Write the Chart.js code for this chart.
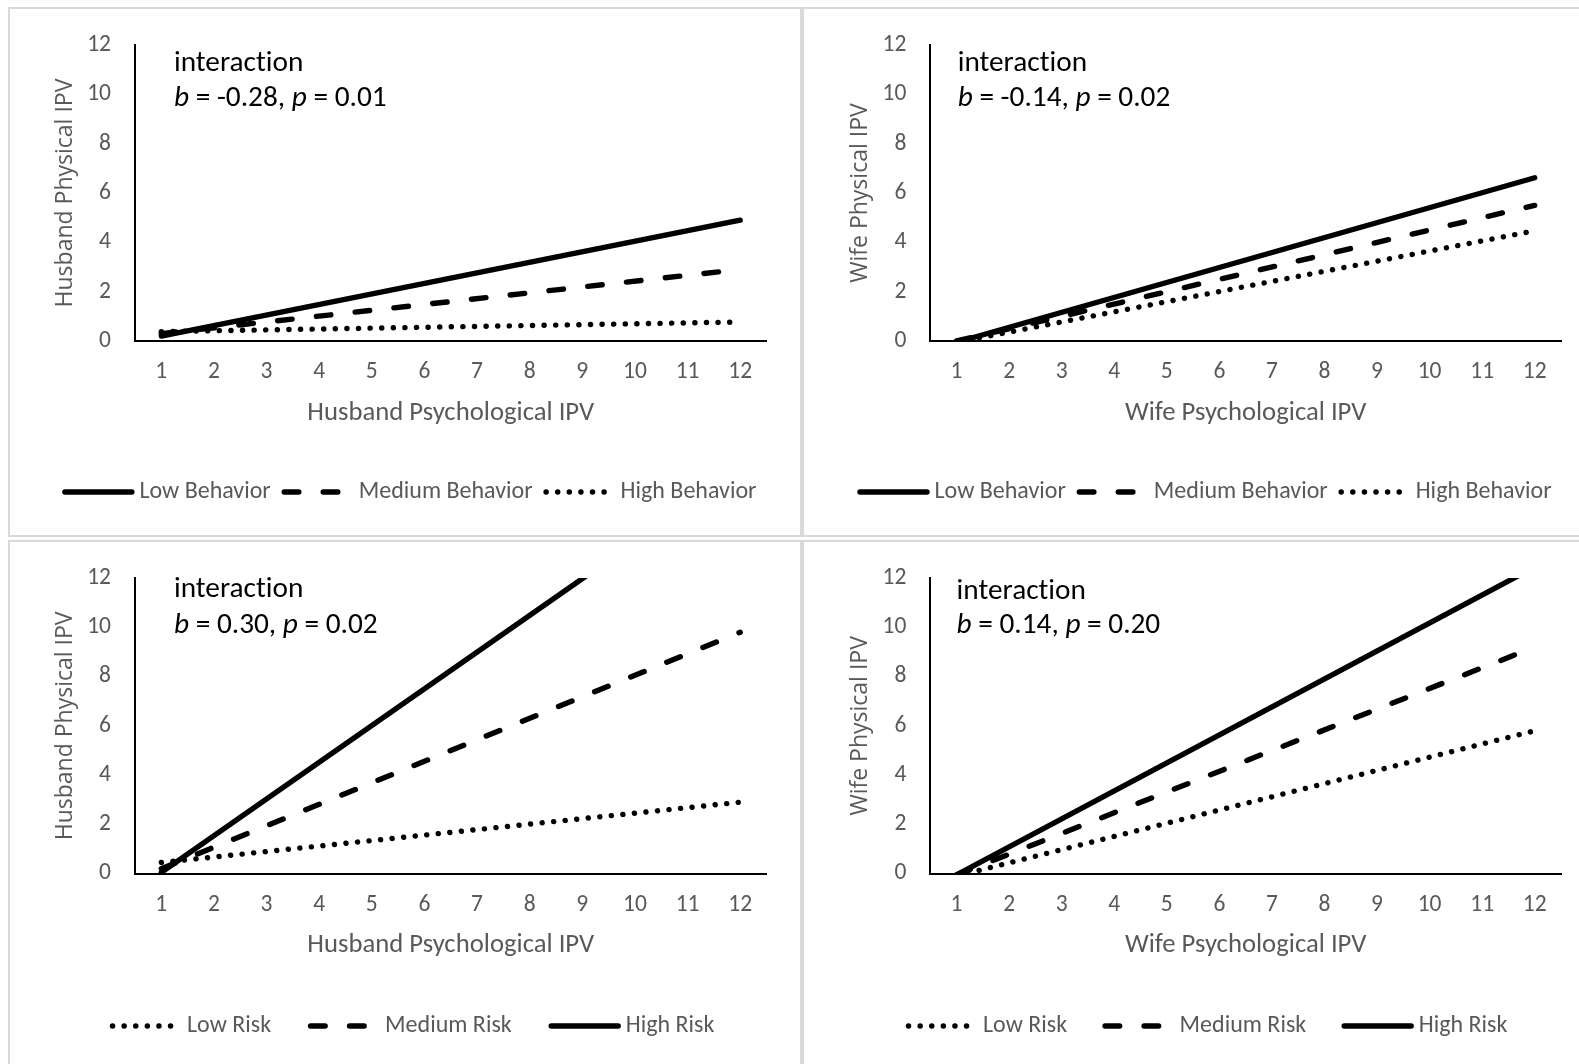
<!DOCTYPE html>
<html><head><meta charset="utf-8">
<script src="https://cdn.jsdelivr.net/npm/chart.js@4/dist/chart.umd.min.js"></script>
<style>
html,body{margin:0;padding:0;background:#fff;width:1579px;height:1064px;overflow:hidden;}
.panel{position:absolute;box-sizing:border-box;border:2px solid #d9d9d9;}
canvas{position:absolute;}
</style></head><body>
<div class="panel" style="left:8px;top:7px;width:794px;height:530px"></div>
<div class="panel" style="left:802px;top:7px;width:794px;height:530px"></div>
<div class="panel" style="left:8px;top:540px;width:794px;height:530px"></div>
<div class="panel" style="left:802px;top:540px;width:794px;height:530px"></div>
<canvas id="c1" style="left:8px;top:7px" width="794" height="530"></canvas>
<canvas id="c2" style="left:802px;top:7px" width="777" height="530"></canvas>
<canvas id="c3" style="left:8px;top:540px" width="794" height="524"></canvas>
<canvas id="c4" style="left:802px;top:540px" width="777" height="524"></canvas>
<script>
// ---- data (values read at psychological IPV = 1 and = 12; lines are straight) ----
const categories = ['1','2','3','4','5','6','7','8','9','10','11','12'];
const yTicks = [0, 2, 4, 6, 8, 10, 12];
const behaviorLabels = ['Low Behavior', 'Medium Behavior', 'High Behavior'];
const riskLabels = ['Low Risk', 'Medium Risk', 'High Risk'];

const husbandLowBehavior    = [0.2, 4.9];
const husbandMediumBehavior = [0.3, 2.9];
const husbandHighBehavior   = [0.38, 0.77];

const wifeLowBehavior    = [-0.05, 6.62];
const wifeMediumBehavior = [0.0, 5.5];
const wifeHighBehavior   = [-0.05, 4.47];

const husbandLowRisk    = [0.45, 2.9];
const husbandMediumRisk = [0.2, 9.8];
const husbandHighRisk   = [0.05, 16.45];

const wifeLowRisk    = [-0.1, 5.8];
const wifeMediumRisk = [-0.05, 9.2];
const wifeHighRisk   = [-0.05, 12.45];

const xTitleHusband = 'Husband Psychological IPV';
const xTitleWife = 'Wife Psychological IPV';
const yTitleHusband = 'Husband Physical IPV';
const yTitleWife = 'Wife Physical IPV';
const annotations = [
  ['interaction', [['b',true],[' = -0.28, ',false],['p',true],[' = 0.01',false]]],
  ['interaction', [['b',true],[' = -0.14, ',false],['p',true],[' = 0.02',false]]],
  ['interaction', [['b',true],[' = 0.30, ',false],['p',true],[' = 0.02',false]]],
  ['interaction', [['b',true],[' = 0.14, ',false],['p',true],[' = 0.20',false]]]
];

// ---- styles ----
const LW = 5.4;
const SOLID = [], DASHED = [14.6, 24.4], DOTTED = [0.1, 11.5];
const GRAY = '#595959';

function series(ends) {
  const arr = categories.map(() => null);
  arr[0] = ends[0];
  arr[categories.length - 1] = ends[1];
  return arr;
}
function ds(label, ends, dash) {
  return {
    label, data: series(ends), borderColor: '#000', backgroundColor: '#000',
    borderWidth: LW, borderDash: dash, borderCapStyle: 'round', borderJoinStyle: 'round',
    pointRadius: 0, tension: 0, spanGaps: true, clip: 0, fill: false
  };
}

const overlay = {
  id: 'overlay',
  afterDraw(chart, args, o) {
    const ctx = chart.ctx, a = chart.chartArea;
    ctx.save();
    try { ctx.textRendering = 'optimizeSpeed'; } catch (e) {}
    ctx.textBaseline = 'middle'; ctx.textAlign = 'left'; ctx.fillStyle = '#000';
    const f = '29.3px Carlito';
    ctx.font = f;
    ctx.fillText(o.ann[0], a.left + o.dx, a.top + o.dy1);
    let x = a.left + o.dx;
    for (const [t, it] of o.ann[1]) {
      ctx.font = (it ? 'italic ' : '') + f;
      ctx.fillText(t, x, a.top + o.dy2);
      x += ctx.measureText(t).width;
    }
    // legend
    ctx.font = '24px Carlito';
    let lx = o.legX; const ly = o.legY;
    for (const d of chart.data.datasets) {
      ctx.save();
      ctx.strokeStyle = d.borderColor; ctx.lineWidth = d.borderWidth;
      ctx.lineCap = 'round'; ctx.setLineDash(d.borderDash);
      ctx.beginPath(); ctx.moveTo(lx + 2.5, ly); ctx.lineTo(lx + 69.5, ly); ctx.stroke();
      ctx.restore();
      ctx.fillStyle = GRAY;
      ctx.fillText(d.label, lx + 77, ly);
      lx += 77 + ctx.measureText(d.label).width + o.legGap;
    }
    ctx.restore();
  }
};

function makeChart(id, datasets, xTitle, yTitle, pad, yW, yTitlePad, ov) {
  return new Chart(document.getElementById(id), {
    type: 'line',
    data: { labels: categories, datasets },
    options: {
      responsive: false, animation: false, events: [],
      layout: { padding: pad },
      plugins: { legend: { display: false }, tooltip: { enabled: false }, overlay: ov },
      scales: {
        x: {
          type: 'category', offset: true,
          grid: { display: false, drawTicks: false },
          border: { display: true, color: '#000', width: 2 },
          ticks: { color: GRAY, font: { family: 'Carlito', size: 23.5 }, padding: 17.5, maxRotation: 0, autoSkip: false },
          title: { display: true, text: xTitle, color: GRAY, font: { family: 'Carlito', size: 26.7 }, padding: { top: 0, bottom: 0 } },
          afterFit(s) { s.height = 88; }
        },
        y: {
          min: yTicks[0], max: yTicks[yTicks.length - 1],
          afterBuildTicks(s) { s.ticks = yTicks.map(v => ({ value: v })); },
          grid: { display: false, drawTicks: false },
          border: { display: true, color: '#000', width: 2 },
          ticks: { color: GRAY, font: { family: 'Carlito', size: 23.5 }, padding: 24 },
          title: { display: true, text: yTitle, color: GRAY, font: { family: 'Open Sans', size: 23 }, padding: { top: yTitlePad, bottom: 0 } },
          afterFit(s) { s.width = yW; }
        }
      }
    },
    plugins: [overlay]
  });
}

makeChart('c1', [
  ds(behaviorLabels[0], husbandLowBehavior, SOLID),
  ds(behaviorLabels[1], husbandMediumBehavior, DASHED),
  ds(behaviorLabels[2], husbandHighBehavior, DOTTED)
], xTitleHusband, yTitleHusband, { left: 30, top: 35.5, right: 35.5, bottom: 108 }, 97, 13.6,
  { ann: annotations[0], dx: 39, dy1: 18.5, dy2: 54, legX: 54.4, legY: 485, legGap: 11 });

makeChart('c2', [
  ds(behaviorLabels[0], wifeLowBehavior, SOLID),
  ds(behaviorLabels[1], wifeMediumBehavior, DASHED),
  ds(behaviorLabels[2], wifeHighBehavior, DOTTED)
], xTitleWife, yTitleWife, { left: 30, top: 35.5, right: 18, bottom: 108 }, 98.3, 14.2,
  { ann: annotations[1], dx: 27.4, dy1: 19, dy2: 54, legX: 55.5, legY: 485, legGap: 11 });

makeChart('c3', [
  ds(riskLabels[0], husbandLowRisk, DOTTED),
  ds(riskLabels[1], husbandMediumRisk, DASHED),
  ds(riskLabels[2], husbandHighRisk, SOLID)
], xTitleHusband, yTitleHusband, { left: 30, top: 36, right: 35.5, bottom: 102.4 }, 97, 13.6,
  { ann: annotations[2], dx: 39, dy1: 12, dy2: 48, legX: 102, legY: 486, legGap: 37 });

makeChart('c4', [
  ds(riskLabels[0], wifeLowRisk, DOTTED),
  ds(riskLabels[1], wifeMediumRisk, DASHED),
  ds(riskLabels[2], wifeHighRisk, SOLID)
], xTitleWife, yTitleWife, { left: 30, top: 36, right: 18, bottom: 102.4 }, 98.3, 14.2,
  { ann: annotations[3], dx: 26.3, dy1: 14, dy2: 48, legX: 104, legY: 486, legGap: 35.5 });
</script>
</body></html>
